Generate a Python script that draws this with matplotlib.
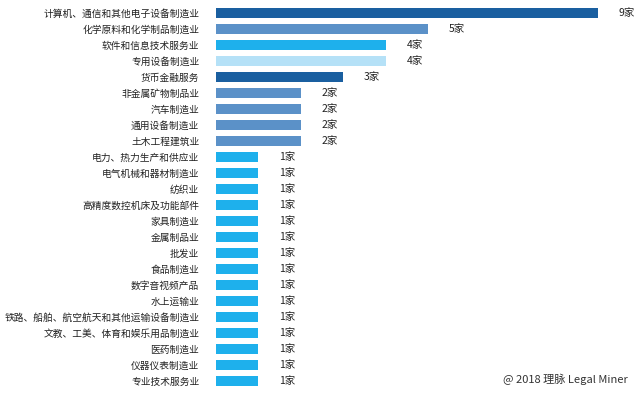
import matplotlib
matplotlib.use("Agg")
import matplotlib.pyplot as plt

plt.rcParams['font.family'] = ['Noto Sans CJK SC', 'DejaVu Sans']

industries = ["计算机、通信和其他电子设备制造业", "化学原料和化学制品制造业", "软件和信息技术服务业",
              "专用设备制造业", "货币金融服务", "非金属矿物制品业", "汽车制造业", "通用设备制造业",
              "土木工程建筑业", "电力、热力生产和供应业", "电气机械和器材制造业", "纺织业",
              "高精度数控机床及功能部件", "家具制造业", "金属制品业", "批发业", "食品制造业",
              "数字音视频产品", "水上运输业", "铁路、船舶、航空航天和其他运输设备制造业",
              "文教、工美、体育和娱乐用品制造业", "医药制造业", "仪器仪表制造业", "专业技术服务业"]
counts = [9, 5, 4, 4, 3, 2, 2, 2, 2, 1, 1, 1, 1, 1, 1, 1, 1, 1, 1, 1, 1, 1, 1, 1]

dark = "#1a5fa0"
steel = "#5b91c8"
bright = "#1eb0ec"
light = "#b5e1f7"
colors = [dark, steel, bright, light, dark, steel, steel, steel, steel] + [bright] * 15

fig = plt.figure(figsize=(6.4, 3.95), dpi=100)
ax = fig.add_axes([216 / 640, 1 - 389 / 395, 424 / 640, 384 / 395])

y = list(range(len(industries)))
ax.barh(y, counts, height=0.62, color=colors)
for yi, c in zip(y, counts):
    ax.annotate(f"{c}家", (c, yi), xytext=(15, 0), textcoords="offset points",
                va="center", ha="left", fontsize=7.5, color="#222222")

ax.set_yticks(y)
ax.set_yticklabels(industries, fontsize=7, color="#222222")
ax.tick_params(axis="y", length=0, pad=12)
ax.set_xticks([])
ax.set_xlim(0, 10)
ax.set_ylim(len(industries) - 0.5, -0.5)
for s in ax.spines.values():
    s.set_visible(False)

fig.text(628 / 640, 1 - 379 / 395, "@ 2018 理脉 Legal Miner", ha="right", va="center",
         fontsize=8, color="#333333")

fig.savefig("out.png", dpi=100)
